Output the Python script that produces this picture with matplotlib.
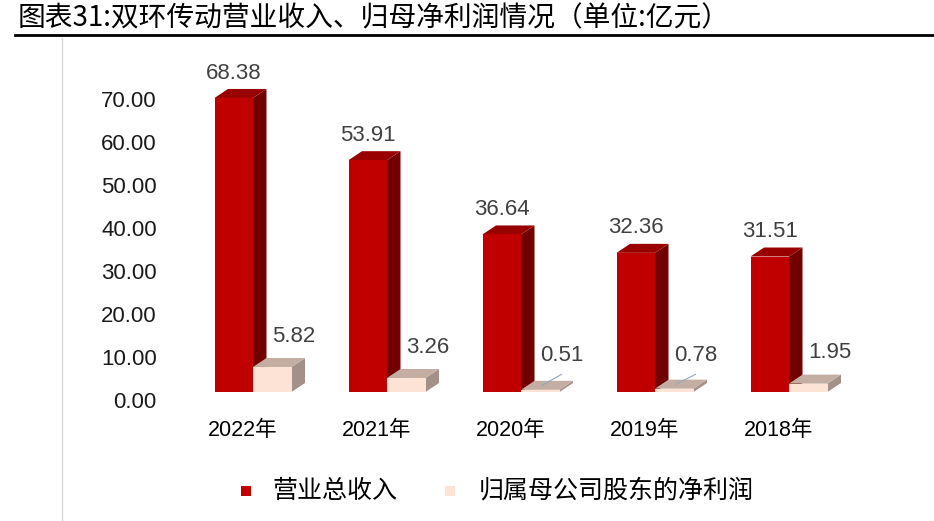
import matplotlib
matplotlib.use("Agg")
import matplotlib.pyplot as plt
import matplotlib.transforms as mtransforms
from matplotlib.patches import Polygon, Rectangle
from matplotlib.lines import Line2D

years = ["2022年", "2021年", "2020年", "2019年", "2018年"]
revenue = [68.38, 53.91, 36.64, 32.36, 31.51]
net_profit = [5.82, 3.26, 0.51, 0.78, 1.95]
legend_names = ["营业总收入", "归属母公司股东的净利润"]
title = "图表31:双环传动营业收入、归母净利润情况（单位:亿元）"

CJK = "Noto Sans CJK SC"
NUM = ["Liberation Sans", CJK]

W, H = 934, 521
fig = plt.figure(figsize=(W / 100, H / 100), dpi=100)

# axes placed in pixel terms
left_px, right_px, bot_px, top_px = 165, 934, 392, 60
ax = fig.add_axes([left_px / W, (H - bot_px) / H, (right_px - left_px) / W, (bot_px - top_px) / H])
px_x = 134.0   # pixels per category
px_y = 4.3     # pixels per unit
x0 = 253
ax.set_xlim(-(x0 - left_px) / px_x, (right_px - x0) / px_x)
ax.set_ylim(0, (bot_px - top_px) / px_y)
for s in ax.spines.values():
    s.set_visible(False)

bw = 38.5 / px_x
dx = 13.5 / px_x
dy = 9.0 / px_y

red_cols = ("#C00000", "#720000", "#990000")
pink_cols = ("#FDE3D6", "#A39088", "#C4AEA3")


def bar3d(x, v, cols):
    front, side, top = cols
    ax.add_patch(Polygon([(x + bw, 0), (x + bw + dx, dy), (x + bw + dx, v + dy), (x + bw, v)],
                         closed=True, facecolor=side, edgecolor="none"))
    ax.add_patch(Polygon([(x, v), (x + bw, v), (x + bw + dx, v + dy), (x + dx, v + dy)],
                         closed=True, facecolor=top, edgecolor="none"))
    ax.add_patch(Rectangle((x, 0), bw, v, facecolor=front, edgecolor="none"))


for i in range(len(years)):
    bar3d(i - bw, revenue[i], red_cols)
    bar3d(i, net_profit[i], pink_cols)
    ax.text(i - bw / 2, revenue[i] + 5.8, f"{revenue[i]:.2f}", ha="center", va="center",
            fontsize=16, color="#404040", family=NUM)
    ly = max(net_profit[i], 1.2) + 7.2
    lx = i + bw + 2 / px_x
    ax.text(lx, ly, f"{net_profit[i]:.2f}", ha="center", va="center",
            fontsize=16, color="#404040", family=NUM)
    if net_profit[i] < 1:
        ax.plot([i + bw * 0.55, lx], [net_profit[i] + dy * 0.5, ly - 4.3],
                color="#8FA8C0", lw=0.8)
    ax.text(i - 10 / px_x, -38 / (bot_px - top_px), years[i], transform=ax.get_xaxis_transform(),
            ha="center", va="center", fontsize=15.5, color="black", family=NUM)

ax.set_xticks([])
yt = list(range(0, 80, 10))
ax.set_yticks(yt)
ax.set_yticklabels([f"{v:.2f}" for v in yt], fontsize=16, family=NUM, color="#1a1a1a")
ax.tick_params(axis="y", length=0, pad=6)
off = mtransforms.ScaledTranslation(0, -0.08, fig.dpi_scale_trans)
for lab in ax.get_yticklabels():
    lab.set_transform(lab.get_transform() + off)

# title and frame lines
fig.text(18 / W, (H - 18) / H, title, ha="left", va="center", fontsize=20, family=CJK,
         weight="medium", color="black")
fig.add_artist(Line2D([15 / W, 1], [(H - 35) / H] * 2, color="black", lw=2))
fig.add_artist(Line2D([62 / W] * 2, [0, (H - 38) / H], color="#D9D9D9", lw=1))

# legend
ly = (H - 491) / H
fig.add_artist(Rectangle((241 / W, ly - 5 / H), 10 / W, 10 / H, facecolor=red_cols[0],
                         edgecolor="none", transform=fig.transFigure))
fig.text(272 / W, ly, legend_names[0], ha="left", va="center", fontsize=18, family=CJK)
fig.add_artist(Rectangle((445 / W, ly - 5 / H), 10 / W, 10 / H, facecolor=pink_cols[0],
                         edgecolor="none", transform=fig.transFigure))
fig.text(479 / W, ly, legend_names[1], ha="left", va="center", fontsize=18, family=CJK)

fig.savefig("out.png", dpi=100)
